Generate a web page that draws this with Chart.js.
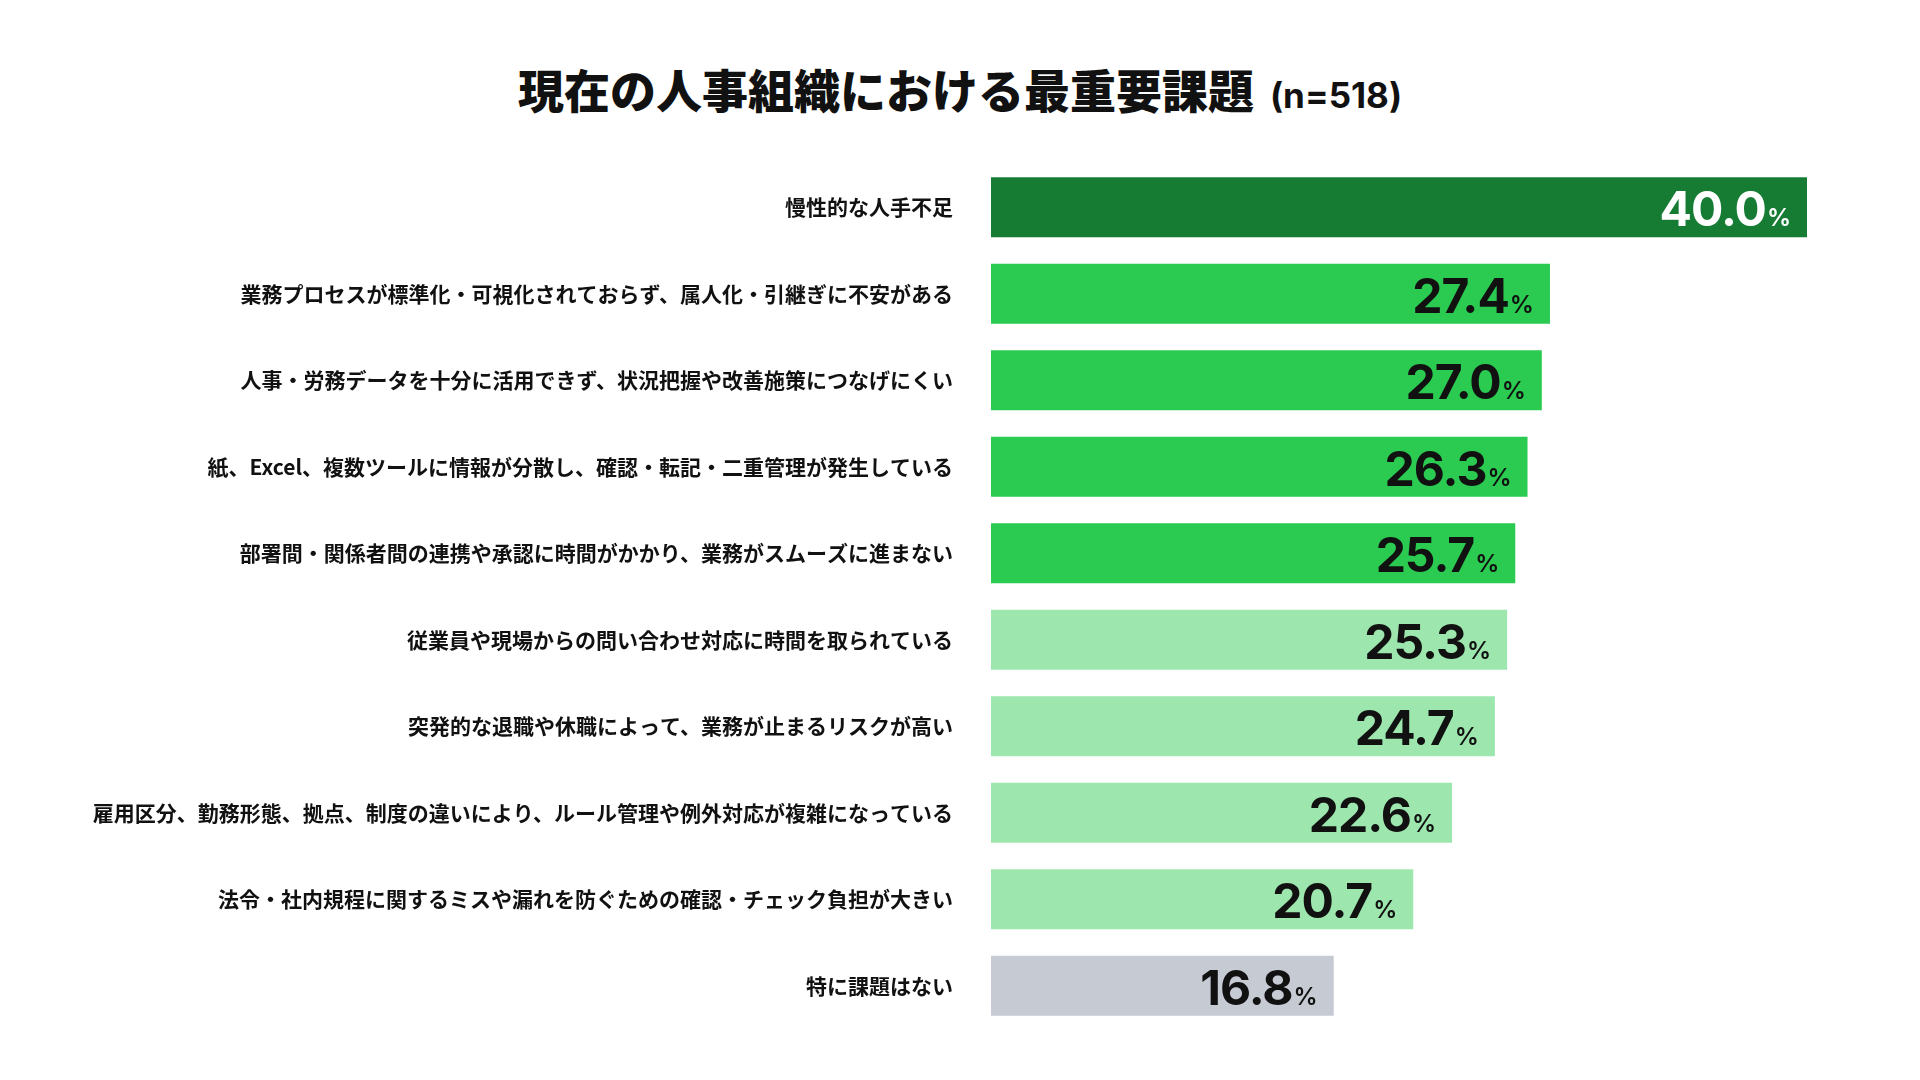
<!DOCTYPE html>
<html lang="ja">
<head>
<meta charset="utf-8">
<script src="https://cdn.jsdelivr.net/npm/chart.js@4.4.1/dist/chart.umd.min.js"></script>
<style>
  html, body { margin: 0; padding: 0; background: #ffffff; }
  #wrap { position: relative; width: 1920px; height: 1080px; overflow: hidden; background: #fff; }
  #title { position: absolute; left: 0; width: 1920px; top: 58px; height: 60px; line-height: 60px;
           text-align: center; font-family: "Noto Sans CJK JP", sans-serif; font-weight: 900;
           font-size: 46px; color: #111; white-space: nowrap; }
  #title .n { font-family: Inter, "Noto Sans", sans-serif; font-weight: 700; font-size: 35px; margin-left: 16px; }
  #chartBox { position: absolute; left: 0; top: 0; width: 1920px; height: 1080px; }
</style>
</head>
<body>
<div id="wrap">
  <div id="title">現在の人事組織における最重要課題<span class="n">(n=518)</span></div>
  <div id="chartBox"><canvas id="c"></canvas></div>
</div>
<script>
const categories = [
  "慢性的な人手不足",
  "業務プロセスが標準化・可視化されておらず、属人化・引継ぎに不安がある",
  "人事・労務データを十分に活用できず、状況把握や改善施策につなげにくい",
  "紙、Excel、複数ツールに情報が分散し、確認・転記・二重管理が発生している",
  "部署間・関係者間の連携や承認に時間がかかり、業務がスムーズに進まない",
  "従業員や現場からの問い合わせ対応に時間を取られている",
  "突発的な退職や休職によって、業務が止まるリスクが高い",
  "雇用区分、勤務形態、拠点、制度の違いにより、ルール管理や例外対応が複雑になっている",
  "法令・社内規程に関するミスや漏れを防ぐための確認・チェック負担が大きい",
  "特に課題はない"
];
const values = [40.0, 27.4, 27.0, 26.3, 25.7, 25.3, 24.7, 22.6, 20.7, 16.8];
const barColors = ["#167c34", "#2bca51", "#2bca51", "#2bca51", "#2bca51",
                   "#9de6ae", "#9de6ae", "#9de6ae", "#9de6ae", "#c5cad3"];
const valueColors = ["#ffffff", "#111111", "#111111", "#111111", "#111111",
                     "#111111", "#111111", "#111111", "#111111", "#111111"];

const valueLabels = {
  id: "valueLabels",
  afterDatasetsDraw(chart) {
    const ctx = chart.ctx;
    const meta = chart.getDatasetMeta(0);
    ctx.save();
    ctx.textBaseline = "alphabetic";
    ctx.textAlign = "right";
    meta.data.forEach((bar, i) => {
      const v = values[i].toFixed(1);
      const xr = bar.x - 16;
      const yb = bar.y + 19;
      ctx.fillStyle = valueColors[i];
      ctx.letterSpacing = "0px";
      ctx.font = "600 24px Inter, 'Noto Sans', sans-serif";
      ctx.fillText("%", xr, yb);
      const pw = ctx.measureText("%").width;
      ctx.font = "700 48px Inter, 'Noto Sans', sans-serif";
      ctx.letterSpacing = "-1px";
      ctx.fillText(v, xr - pw - 1, yb);
    });
    ctx.restore();
  }
};

new Chart(document.getElementById("c"), {
  type: "bar",
  data: {
    labels: categories,
    datasets: [{
      data: values,
      backgroundColor: barColors,
      borderWidth: 0,
      categoryPercentage: 1.0,
      barPercentage: 0.693
    }]
  },
  options: {
    indexAxis: "y",
    responsive: true,
    maintainAspectRatio: false,
    devicePixelRatio: 1,
    animation: false,
    layout: { padding: { left: 0, right: 113, top: 164, bottom: 51 } },
    plugins: { legend: { display: false }, tooltip: { enabled: false }, title: { display: false } },
    scales: {
      x: { min: 0, max: 40, display: false },
      y: {
        grid: { display: false, drawTicks: false },
        border: { display: false },
        ticks: {
          color: "#111111",
          padding: 38,
          font: { family: "'Noto Sans CJK JP', sans-serif", size: 21, weight: "bold" }
        },
        afterFit(scale) { scale.width = 991; }
      }
    }
  },
  plugins: [valueLabels]
});
</script>
</body>
</html>
